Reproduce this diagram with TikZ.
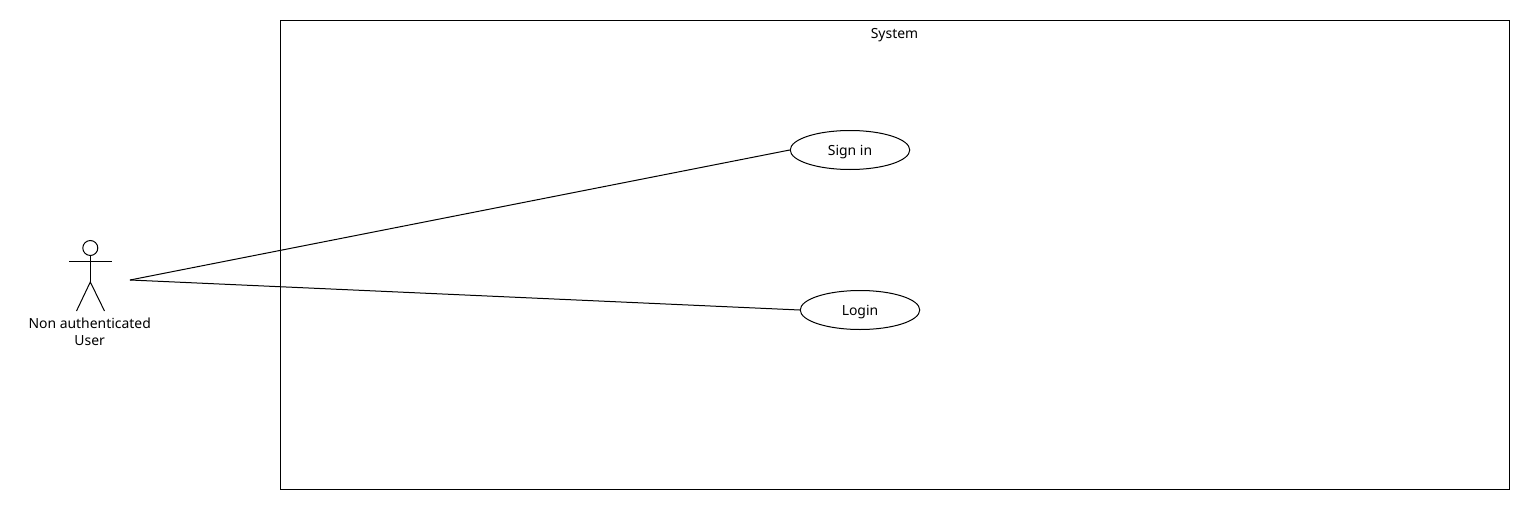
\documentclass[tikz,border=0pt]{standalone}
\usepackage{fontspec}
\setmainfont{Noto Sans}
\usepackage{tikz}
\usetikzlibrary{shapes,arrows,positioning,calc}
\newlength{\pxu}
\setlength{\pxu}{0.75pt}
\tikzset{
  usecase/.style={draw, ellipse, minimum width=119.5\pxu, minimum height=39\pxu, inner sep=0pt, text height=10pt, text depth=2.4pt, font=\fontsize{10.45pt}{12pt}\selectfont},
  label/.style={inner sep=0pt, font=\fontsize{10.45pt}{12.75pt}\selectfont, align=center},
  stick/.style={line width=0.75pt}
}
\begin{document}
\begin{tikzpicture}[x=0.75pt,y=-0.75pt,line width=0.75pt]
\useasboundingbox (0,0) rectangle (1530,510);
% system boundary
\node[draw, minimum width=1229\pxu, minimum height=469\pxu, inner sep=0pt, line width=0.75pt] (system) at (895,255) {};
\node[label] (systemlabel) at (894.5,35.5) {System};
% use cases
\node[usecase] (signin) at (850,150) {Sign in};
\node[usecase] (login) at (860,310) {Login};
% actor
\node[draw, circle, minimum size=15\pxu, inner sep=0pt] (head) at (90.3,248) {};
\coordinate (hip) at (90.3,282);
\coordinate (armL) at (69,261);
\coordinate (armR) at (112,261);
\coordinate (footL) at (76.5,311);
\coordinate (footR) at (104.5,311);
\coordinate (actor) at (130,280);
\draw[stick] (head) -- (hip);
\draw[stick] (armL) -- (armR);
\draw[stick] (footL) -- (hip) -- (footR);
\node[label] (user) at (89.7,332) {Non authenticated\\User};
% associations
\draw[stick] (actor) -- (signin.west);
\draw[stick] (actor) -- (login.west);
\end{tikzpicture}
\end{document}
